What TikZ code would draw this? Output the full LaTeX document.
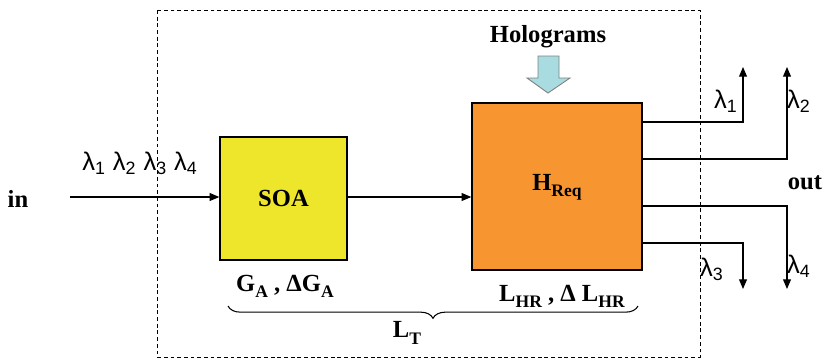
\documentclass[tikz,border=0pt]{standalone}
\usepackage{fontspec}
\setmainfont{Liberation Serif}
\newfontfamily\arialfont{Liberation Sans}
\usetikzlibrary{positioning, arrows.meta, decorations.pathreplacing}
\definecolor{soayellow}{RGB}{238,230,42}
\definecolor{holoorange}{RGB}{247,150,48}
\definecolor{holoblue}{RGB}{168,220,224}
\tikzset{
	blockbox/.style={draw, line width=0.8pt, inner sep=0pt},
	boldtext/.style={font=\fontsize{14}{16}\selectfont\bfseries},
	lambdatext/.style={font=\fontsize{14.5}{16}\selectfont\arialfont}
}
\newcommand{\lsub}[1]{\raisebox{-0.55ex}{\fontsize{10}{12}\selectfont #1}}

\begin{document}
\begin{tikzpicture}[>={Triangle[length=5.5pt,width=4.5pt]}, x=0.02cm, y=-0.02cm, line width=0.6pt]
      \useasboundingbox (0,0) rectangle (825,359);
      \draw[dash pattern=on 2.2pt off 1.6pt, line width=0.5pt] (157,10) rectangle (700,357);
      \node[blockbox, fill=soayellow, minimum width=2.54cm, minimum height=2.46cm, boldtext] (soa) at (283.5,198.5) {SOA};
      \node[blockbox, fill=holoorange, minimum width=3.4cm, minimum height=3.34cm, boldtext] (hreq) at (557,186.5) {\raisebox{-1.6ex}{H\lsub{Req}}};
      \node[boldtext] (in) at (18,199) {in};
      \node[boldtext] (out) at (805,183) {out};
      \node[lambdatext] (lall) at (140,163) {λ\textsubscript{1} λ\textsubscript{2} λ\textsubscript{3} λ\textsubscript{4}};
      \coordinate (src) at (70,197);
      \draw[->] (src) -- (src -| soa.west);
      \draw[->] (src -| soa.east) -- (src -| hreq.west);
      % holograms
      \node[boldtext] (holo) at (548,37) {Holograms};
      \draw[fill=holoblue, draw=gray, line width=0.5pt] (538,56) -- (559,56) -- (559,78) -- (570,78) -- (548,93) -- (527,78) -- (538,78) -- cycle;
      % outputs
      \coordinate (o1) at (743,67);
      \coordinate (o2) at (787,67);
      \coordinate (o3) at (743,289);
      \coordinate (o4) at (787,289);
      \draw[->] (hreq.east |- 0,122) -| (o1);
      \draw[->] (hreq.east |- 0,159) -| (o2);
      \draw[->] (hreq.east |- 0,243) -| (o3);
      \draw[->] (hreq.east |- 0,206) -| (o4);
      \node[lambdatext] (l1) at (726,101) {λ\textsubscript{1}};
      \node[lambdatext] (l2) at (799,101) {λ\textsubscript{2}};
      \node[lambdatext] (l3) at (712,269) {λ\textsubscript{3}};
      \node[lambdatext] (l4) at (799,266) {λ\textsubscript{4}};
      % parameters
      \node[boldtext] (gain) at (285,286) {G\lsub{A} , ΔG\lsub{A}};
      \node[boldtext] (len) at (562,296) {L\lsub{HR} , Δ L\lsub{HR}};
      \draw[decorate, decoration={brace, mirror, amplitude=7pt}] (228,306) -- (638,306);
      \node[boldtext] (lt) at (407,333) {L\lsub{T}};
    \end{tikzpicture}
\end{document}
